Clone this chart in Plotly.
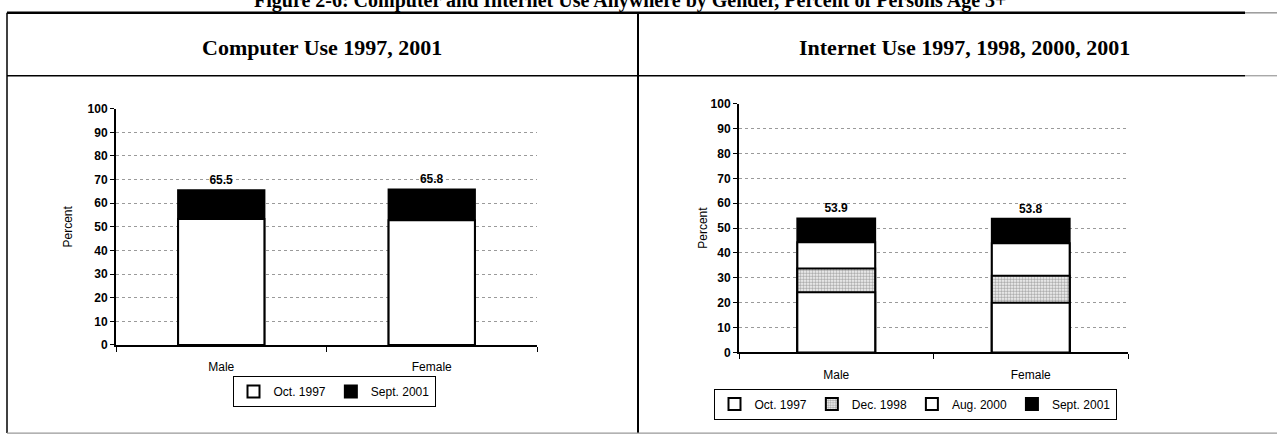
import plotly.graph_objects as go

categories = ["Male", "Female"]

computer_labels = ["Oct. 1997", "Sept. 2001"]
computer_1997 = [53.3, 52.8]
computer_2001 = [65.5, 65.8]

internet_labels = ["Oct. 1997", "Dec. 1998", "Aug. 2000", "Sept. 2001"]
internet_1997 = [24.2, 20.0]
internet_1998 = [33.8, 30.8]
internet_2000 = [44.3, 43.9]
internet_2001 = [53.9, 53.8]

W, H = 1277, 442
FONT = "Arial, Liberation Sans, sans-serif"
SERIF = "Times New Roman, Liberation Serif, serif"


def px_x(v):
    return v / W


def px_y(v):
    return 1 - v / H


line = dict(color="black", width=2)
value_font = dict(size=12, color="black", family=FONT, weight="bold")
fig = go.Figure()

# left chart: back bar first, front bar last (overlay)
fig.add_trace(go.Bar(
    x=categories, y=computer_2001, name=computer_labels[1], width=0.41,
    marker=dict(color="black", line=line), legendrank=2, legend="legend",
    text=[f"{v:.1f}" for v in computer_2001], textposition="outside",
    textfont=value_font, cliponaxis=False, xaxis="x", yaxis="y",
))
fig.add_trace(go.Bar(
    x=categories, y=computer_1997, name=computer_labels[0], width=0.41,
    marker=dict(color="white", line=line), legendrank=1, legend="legend",
    xaxis="x", yaxis="y",
))

# right chart
fig.add_trace(go.Bar(
    x=categories, y=internet_2001, name=internet_labels[3], width=0.40,
    marker=dict(color="black", line=line), legendrank=4, legend="legend2",
    text=[f"{v:.1f}" for v in internet_2001], textposition="outside",
    textfont=value_font, cliponaxis=False, xaxis="x2", yaxis="y2",
))
fig.add_trace(go.Bar(
    x=categories, y=internet_2000, name=internet_labels[2], width=0.40,
    marker=dict(color="white", line=line), legendrank=3, legend="legend2",
    xaxis="x2", yaxis="y2",
))
fig.add_trace(go.Bar(
    x=categories, y=internet_1998, name=internet_labels[1], width=0.40,
    marker=dict(color="white", line=line,
                pattern=dict(shape=".", fgcolor="#555555", bgcolor="white",
                             size=3, solidity=0.6)),
    legendrank=2, legend="legend2", xaxis="x2", yaxis="y2",
))
fig.add_trace(go.Bar(
    x=categories, y=internet_1997, name=internet_labels[0], width=0.40,
    marker=dict(color="white", line=line), legendrank=1, legend="legend2",
    xaxis="x2", yaxis="y2",
))


def yaxis_style(standoff):
    return dict(
        range=[0, 100], dtick=10, showline=True, linecolor="black",
        linewidth=2, ticks="outside", ticklen=4, tickcolor="black",
        tickfont=dict(size=12, color="black", family=FONT, weight="bold"),
        showgrid=True, gridcolor="#9a9a9a", griddash="dot", gridwidth=1,
        zeroline=False, fixedrange=True,
        title=dict(text="Percent",
                   font=dict(size=12, color="black", family=FONT),
                   standoff=standoff),
    )


xaxis_style = dict(
    showline=True, linecolor="black", linewidth=2, ticks="outside",
    tickson="boundaries", ticklen=5, tickcolor="black",
    tickfont=dict(size=12, color="black", family=FONT),
    ticklabelstandoff=10, fixedrange=True,
)

legend_style = dict(
    orientation="h", bordercolor="black", borderwidth=1, bgcolor="white",
    font=dict(size=12, color="black", family=FONT), xanchor="center",
    yanchor="middle", itemwidth=30, tracegroupgap=0,
)

shapes = [
    dict(type="line", xref="paper", yref="paper", x0=px_x(7), x1=px_x(1245),
         y0=px_y(6), y1=px_y(6), line=dict(color="black", width=2.5)),
    dict(type="line", xref="paper", yref="paper", x0=px_x(1245), x1=1,
         y0=px_y(6), y1=px_y(6), line=dict(color="#999999", width=1.5)),
    dict(type="line", xref="paper", yref="paper", x0=px_x(7), x1=px_x(1245),
         y0=px_y(71), y1=px_y(71), line=dict(color="black", width=1.5)),
    dict(type="line", xref="paper", yref="paper", x0=px_x(1245), x1=1,
         y0=px_y(71), y1=px_y(71), line=dict(color="#999999", width=1.2)),
    dict(type="line", xref="paper", yref="paper", x0=px_x(7), x1=px_x(7),
         y0=px_y(6), y1=px_y(440), line=dict(color="black", width=1.5)),
    dict(type="line", xref="paper", yref="paper", x0=px_x(638), x1=px_x(638),
         y0=px_y(6), y1=px_y(440), line=dict(color="black", width=2)),
    dict(type="line", xref="paper", yref="paper", x0=px_x(7), x1=1,
         y0=px_y(440), y1=px_y(440), line=dict(color="#999999", width=1.2)),
]

annotations = [
    # figure caption, cut off by the top of the scan
    dict(text="<b>Figure 2-6: Computer and Internet Use Anywhere by Gender, "
              "Percent of Persons Age 3+</b>",
         xref="paper", yref="paper", x=px_x(630), y=px_y(7),
         xanchor="center", yanchor="bottom", showarrow=False,
         font=dict(size=20, color="black", family=SERIF)),
    dict(text="<b>Computer Use 1997, 2001</b>", xref="paper", yref="paper",
         x=px_x(322), y=px_y(42), xanchor="center", yanchor="middle",
         showarrow=False, font=dict(size=22, color="black", family=SERIF)),
    dict(text="<b>Internet Use 1997, 1998, 2000, 2001</b>", xref="paper",
         yref="paper", x=px_x(964), y=px_y(42), xanchor="center",
         yanchor="middle", showarrow=False,
         font=dict(size=22, color="black", family=SERIF)),
]

fig.update_layout(
    width=W, height=H, margin=dict(l=0, r=0, t=0, b=0),
    paper_bgcolor="white", plot_bgcolor="white",
    barmode="overlay", showlegend=True,
    xaxis=dict(domain=[px_x(116), px_x(537)], anchor="y", **xaxis_style),
    yaxis=dict(domain=[px_y(349), px_y(105)], anchor="x", **yaxis_style(12)),
    xaxis2=dict(domain=[px_x(739), px_x(1128)], anchor="y2", **xaxis_style),
    yaxis2=dict(domain=[px_y(356.7), px_y(100)], anchor="x2",
                **yaxis_style(0)),
    legend=dict(x=px_x(334), y=px_y(397), **legend_style),
    legend2=dict(x=px_x(915), y=px_y(410), **legend_style),
    shapes=shapes, annotations=annotations,
)

fig.write_html("out.html", config={"displayModeBar": False},
               post_script="document.body.style.margin='0';")
